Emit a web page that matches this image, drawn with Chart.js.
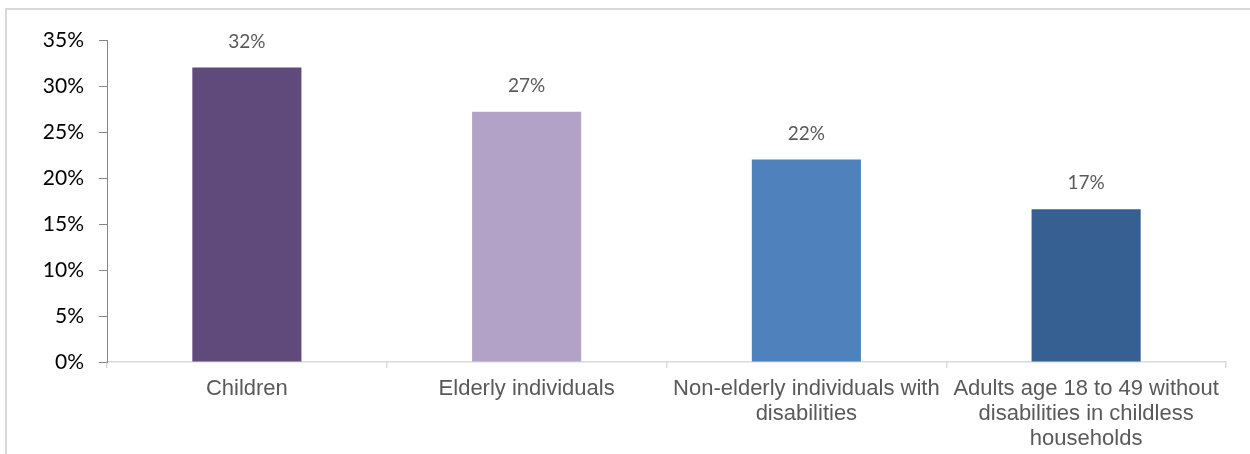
<!DOCTYPE html>
<html>
<head>
<meta charset="utf-8">
<script src="https://cdn.jsdelivr.net/npm/chart.js@4/dist/chart.umd.min.js"></script>
<style>
  html, body { margin: 0; padding: 0; background: #fff; }
  #wrap { position: relative; width: 1250px; height: 454px; }
</style>
</head>
<body>
<div id="wrap"><canvas id="c" width="1250" height="454"></canvas></div>
<script>
// Share of participants by group (percent)
const categories = [
  'Children',
  'Elderly individuals',
  ['Non-elderly individuals with', 'disabilities'],
  ['Adults age 18 to 49 without', 'disabilities in childless', 'households']
];
const shares = [32, 27.2, 22, 16.6];
const barColors = ['#604A7B', '#B3A2C7', '#4F81BD', '#366092'];
const yTicks = [0, 5, 10, 15, 20, 25, 30, 35];

// Light frame around the chart block
const framePlugin = {
  id: 'frame',
  beforeDraw(chart) {
    const ctx = chart.ctx;
    ctx.save();
    ctx.strokeStyle = '#d9d9d9';
    ctx.lineWidth = 2;
    ctx.beginPath();
    ctx.moveTo(6, chart.height);
    ctx.lineTo(6, 9);
    ctx.lineTo(chart.width, 9);
    ctx.stroke();
    ctx.restore();
  }
};

// Value labels above each bar
const valueLabels = {
  id: 'valueLabels',
  afterDatasetsDraw(chart) {
    const ctx = chart.ctx;
    const meta = chart.getDatasetMeta(0);
    ctx.save();
    ctx.font = '19px Lato, "Open Sans", sans-serif';
    ctx.fillStyle = '#595959';
    ctx.textAlign = 'center';
    ctx.textBaseline = 'middle';
    meta.data.forEach((bar, i) => {
      ctx.fillText(Math.round(shares[i]) + '%', bar.x, bar.y - 26);
    });
    ctx.restore();
  }
};

new Chart(document.getElementById('c'), {
  type: 'bar',
  data: {
    labels: categories,
    datasets: [{
      data: shares,
      backgroundColor: barColors,
      borderWidth: 0,
      barPercentage: 0.39,
      categoryPercentage: 1
    }]
  },
  options: {
    responsive: false,
    animation: false,
    events: [],
    layout: { padding: { top: 40, right: 24, bottom: 0, left: 0 } },
    plugins: {
      legend: { display: false },
      tooltip: { enabled: false }
    },
    scales: {
      x: {
        offset: true,
        grid: {
          offset: true,
          drawOnChartArea: false,
          drawTicks: true,
          tickLength: 6,
          color: '#d9d9d9',
          lineWidth: 1.5
        },
        border: { color: '#d9d9d9', width: 1.5 },
        ticks: {
          autoSkip: false,
          maxRotation: 0,
          minRotation: 0,
          padding: 9,
          color: '#595959',
          font: { family: '"Liberation Sans", Arial, sans-serif', size: 22, lineHeight: 1.13 }
        },
        afterFit(scale) { scale.height = 92; }
      },
      y: {
        min: 0,
        max: 35,
        afterBuildTicks(scale) { scale.ticks = yTicks.map(v => ({ value: v })); },
        grid: {
          drawOnChartArea: false,
          drawTicks: true,
          tickLength: 8,
          color: '#868686',
          lineWidth: 1
        },
        border: { color: '#868686', width: 1 },
        ticks: {
          padding: 15,
          color: '#000000',
          font: { family: 'Lato, "Open Sans", sans-serif', size: 21 },
          callback: v => v + '%'
        },
        afterFit(scale) { scale.width = 107; }
      }
    }
  },
  plugins: [framePlugin, valueLabels]
});
</script>
</body>
</html>
